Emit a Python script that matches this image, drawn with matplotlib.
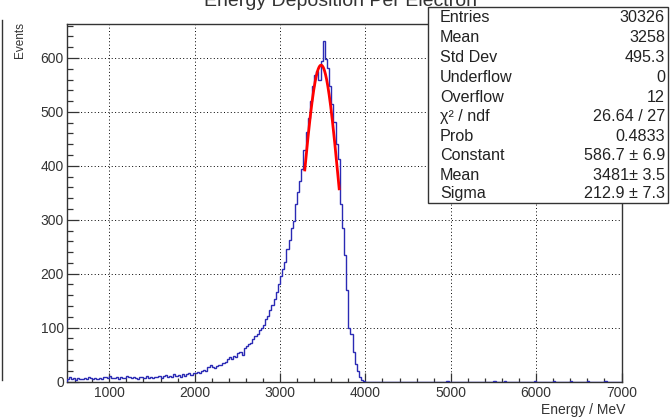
import numpy as np
import matplotlib.pyplot as plt
from matplotlib.lines import Line2D
from matplotlib.patches import Rectangle
from matplotlib.ticker import MultipleLocator

plt.rcParams['font.family'] = ['Liberation Sans', 'DejaVu Sans']

# histogram: 25 MeV bins starting at 500 MeV
bin_lo = 500
bin_width = 25
counts = [
    # 500 - 1000
    5, 8, 4, 6, 3, 7, 5, 4, 6, 5, 8, 6, 4, 7, 5, 6, 4, 8, 9, 7,
    # 1000 - 1500
    10, 6, 7, 9, 5, 8, 6, 7, 10, 8, 6, 9, 7, 5, 8, 9, 6, 10, 7, 8,
    # 1500 - 2000
    6, 9, 8, 11, 7, 10, 12, 9, 11, 8, 13, 10, 12, 9, 14, 11, 13, 15, 12, 16,
    # 2000 - 2500
    16, 18, 15, 19, 21, 20, 26, 31, 27, 25, 28, 31, 30, 35, 37, 42, 46, 41, 47, 45,
    # 2500 - 3000
    52, 55, 50, 63, 66, 70, 72, 78, 84, 88, 96, 100, 104, 115, 122, 132, 142, 153, 166, 180,
    # 3000 - 3500
    195, 208, 222, 245, 262, 285, 297, 330, 352, 372, 395, 430, 462, 488, 520, 548, 568, 575, 560, 595,
    # 3500 - 4000
    632, 598, 582, 548, 515, 482, 440, 412, 330, 285, 235, 170, 100, 88, 55, 32, 20, 9, 3, 1,
    # 4000 - 5500
    0, 0, 0, 0, 0, 0, 0, 0, 0, 0, 0, 0, 0, 0, 0, 0, 0, 0, 0, 0,
    0, 0, 0, 0, 0, 0, 0, 0, 0, 0, 0, 0, 0, 0, 0, 0, 0, 0, 1, 0,
    0, 0, 0, 0, 0, 0, 0, 0, 0, 0, 0, 0, 0, 0, 0, 0, 0, 0, 0, 0,
    # 5500 - 7000
    1, 0, 0, 0, 0, 1, 0, 0, 0, 0, 0, 0, 0, 0, 0, 0, 0, 0, 0, 1,
    0, 0, 0, 0, 0, 0, 0, 0, 1, 0, 0, 0, 0, 0, 0, 0, 1, 0, 0, 0,
    0, 0, 0, 0, 1, 0, 0, 0, 0, 0, 0, 0, 1, 0, 0, 0, 0, 0, 0, 0,
]

# gaussian fit result
fit_const = 586.7
fit_mean = 3481
fit_sigma = 212.9
fit_range = (3290, 3693)

stat_labels = ['Entries', 'Mean', 'Std Dev', 'Underflow', 'Overflow',
               'χ² / ndf', 'Prob', 'Constant', 'Mean', 'Sigma']
stat_values = ['30326', '3258', '495.3', '0', '12',
               '26.64 / 27', '0.4833', '586.7 ± 6.9', '3481± 3.5', '212.9 ± 7.3']

W, H = 672, 419
fig = plt.figure(figsize=(W / 100, H / 100), dpi=100)
ax = fig.add_axes([66.6 / W, 1 - 381.5 / H, (621.5 - 66.6) / W, (381.5 - 24) / H])

edges = bin_lo + bin_width * np.arange(len(counts) + 1)
ax.stairs(counts, edges, color='#2a2ab4', lw=1.0, zorder=3)

xf = np.linspace(fit_range[0], fit_range[1], 200)
yf = fit_const * np.exp(-0.5 * ((xf - fit_mean) / fit_sigma) ** 2)
ax.plot(xf, yf, color='#ff0000', lw=2.0, zorder=4)

ax.set_xlim(500, 7000)
ax.set_ylim(0, 663)
ax.xaxis.set_major_locator(MultipleLocator(1000))
ax.xaxis.set_minor_locator(MultipleLocator(200))
ax.yaxis.set_major_locator(MultipleLocator(100))
ax.yaxis.set_minor_locator(MultipleLocator(20))
ax.grid(True, which='major', color='black', lw=0.7, ls=(0, (1, 2.5)))
ax.tick_params(axis='x', which='major', direction='in', length=6.5, width=0.9,
               labelsize=10, pad=3, top=False, colors='#333333')
ax.tick_params(axis='x', which='minor', direction='in', length=3.2, width=0.9, top=False,
               colors='#333333')
ax.tick_params(axis='y', which='major', direction='in', length=8.6, width=0.9,
               labelsize=10, pad=2, right=False, colors='#333333')
ax.tick_params(axis='y', which='minor', direction='in', length=4.3, width=0.9, right=False,
               colors='#333333')
for s in ax.spines.values():
    s.set_color('#333333')
    s.set_linewidth(1.0)

fig.text(20 / W, 1 - 22 / H, 'Events', rotation=90, ha='center', va='top',
         fontsize=8.5, color='#333333')
fig.text(625 / W, 1 - 410 / H, 'Energy / MeV', ha='right', va='center',
         fontsize=10, color='#333333')
fig.text(340 / W, 1 - 1 / H, 'Energy Deposition Per Electron', ha='center',
         va='center', fontsize=14, color='#333333')

# stats box
fig.patches.append(Rectangle((428 / W, 1 - 203 / H), 240 / W, 196 / H,
                             transform=fig.transFigure, facecolor='white',
                             edgecolor='#333333', lw=1.0, zorder=5))
ys = [17.3, 37.7, 57.3, 77.3, 97.3, 116.7, 136, 155.7, 175, 193.3]
for lab, val, yp in zip(stat_labels, stat_values, ys):
    fig.text(440 / W, 1 - yp / H, lab, ha='left', va='center', fontsize=11.6,
             color='#222222', zorder=6)
    fig.text(665 / W, 1 - yp / H, val, ha='right', va='center', fontsize=11.6,
             color='#222222', zorder=6)

# edge of a neighbouring pad
fig.add_artist(Line2D([1.5 / W, 1.5 / W], [1 - 20 / H, 1 - 380 / H],
                      color='#333333', lw=1.0))

fig.savefig('out.png', dpi=100)
